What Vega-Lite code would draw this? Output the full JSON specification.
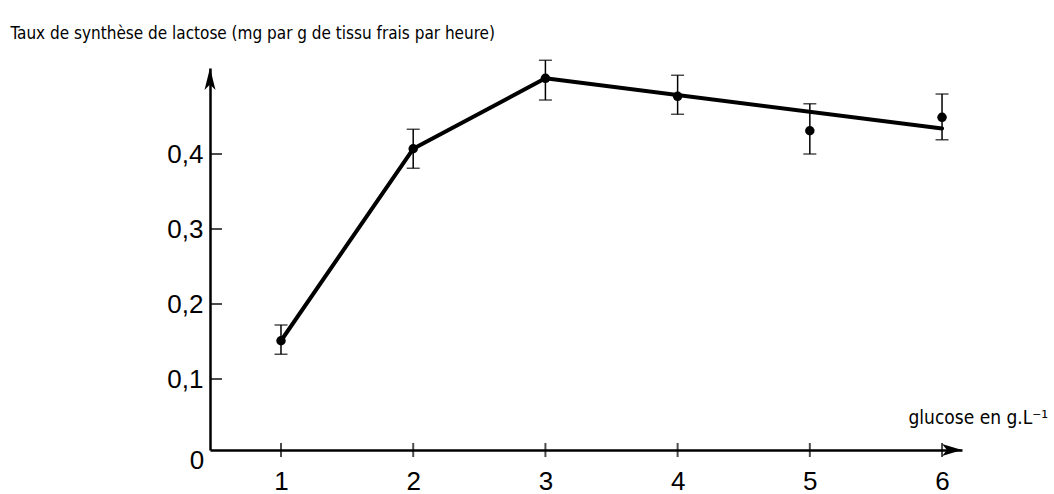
{
  "$schema": "https://vega.github.io/schema/vega-lite/v6.json",
  "width": 752,
  "height": 382,
  "autosize": "none",
  "padding": {"left": 210, "top": 68, "right": 92, "bottom": 44},
  "background": "white",
  "config": {
    "view": {"stroke": null},
    "font": "Liberation Sans",
    "axis": {"grid": false, "ticks": false, "domainColor": "black", "domainWidth": 2.5, "labelColor": "black", "titleColor": "black", "labelFont": "Liberation Sans", "labelFontSize": 26, "titleFontWeight": "normal"}
  },
  "datasets": {
    "mesures": [
      {"glucose": 1, "taux": 0.151, "bas": 0.133, "haut": 0.172},
      {"glucose": 2, "taux": 0.407, "bas": 0.381, "haut": 0.433},
      {"glucose": 3, "taux": 0.501, "bas": 0.472, "haut": 0.525},
      {"glucose": 4, "taux": 0.477, "bas": 0.453, "haut": 0.505},
      {"glucose": 5, "taux": 0.431, "bas": 0.400, "haut": 0.467},
      {"glucose": 6, "taux": 0.449, "bas": 0.419, "haut": 0.480}
    ],
    "courbe": [
      {"glucose": 1, "taux": 0.151},
      {"glucose": 2, "taux": 0.407},
      {"glucose": 3, "taux": 0.501},
      {"glucose": 6, "taux": 0.434}
    ],
    "graduations": [
      {"v": 0.1}, {"v": 0.2}, {"v": 0.3}, {"v": 0.4}
    ]
  },
  "layer": [
    {
      "data": {"name": "courbe"},
      "mark": {"type": "line", "color": "black", "strokeWidth": 4, "strokeJoin": "round", "strokeCap": "round"},
      "encoding": {
        "x": {
          "field": "glucose", "type": "quantitative",
          "scale": {"domain": [0.463, 6.151], "nice": false, "zero": false},
          "axis": {
            "values": [1, 2, 3, 4, 5, 6], "format": "d", "labelPadding": 18, "labelFlush": false, "labelBaseline": "top",
            "title": "glucose en g.L⁻¹", "titleFont": "DejaVu Sans Condensed", "titleFontSize": 19,
            "titleAlign": "left", "titleBaseline": "alphabetic", "titleAnchor": "start", "titleX": 698, "titleY": -27
          }
        },
        "y": {
          "field": "taux", "type": "quantitative",
          "scale": {"domain": [0.00533, 0.5147], "nice": false, "zero": false},
          "axis": {
            "values": [0.1, 0.2, 0.3, 0.4], "labelPadding": 7, "labelBaseline": "middle",
            "labelExpr": "replace(format(datum.value, '.1f'), '.', ',')",
            "title": "Taux de synthèse de lactose (mg par g de tissu frais par heure)",
            "titleFont": "DejaVu Sans Condensed", "titleFontSize": 17, "titleAngle": 0,
            "titleAlign": "left", "titleBaseline": "alphabetic", "titleX": -200, "titleY": -30
          }
        }
      }
    },
    {
      "data": {"name": "mesures"},
      "mark": {"type": "rule", "color": "black", "strokeWidth": 1.5},
      "encoding": {
        "x": {"field": "glucose", "type": "quantitative"},
        "y": {"field": "bas", "type": "quantitative"},
        "y2": {"field": "haut"}
      }
    },
    {
      "data": {"name": "mesures"},
      "mark": {"type": "tick", "orient": "horizontal", "color": "black", "size": 13, "thickness": 1.5},
      "encoding": {
        "x": {"field": "glucose", "type": "quantitative"},
        "y": {"field": "bas", "type": "quantitative"}
      }
    },
    {
      "data": {"name": "mesures"},
      "mark": {"type": "tick", "orient": "horizontal", "color": "black", "size": 13, "thickness": 1.5},
      "encoding": {
        "x": {"field": "glucose", "type": "quantitative"},
        "y": {"field": "haut", "type": "quantitative"}
      }
    },
    {
      "data": {"name": "mesures"},
      "mark": {"type": "circle", "color": "black", "size": 90, "opacity": 1},
      "encoding": {
        "x": {"field": "glucose", "type": "quantitative"},
        "y": {"field": "taux", "type": "quantitative"}
      }
    },
    {
      "data": {"name": "mesures"},
      "mark": {"type": "tick", "orient": "vertical", "color": "black", "size": 14, "thickness": 2},
      "encoding": {
        "x": {"field": "glucose", "type": "quantitative"},
        "y": {"datum": 0.00533, "type": "quantitative"}
      }
    },
    {
      "data": {"name": "graduations"},
      "mark": {"type": "tick", "orient": "horizontal", "color": "black", "size": 12, "thickness": 2, "xOffset": 6},
      "encoding": {
        "x": {"datum": 0.463, "type": "quantitative"},
        "y": {"field": "v", "type": "quantitative"}
      }
    },
    {
      "data": {"values": [{}]},
      "mark": {"type": "point", "filled": true, "color": "black", "opacity": 1, "size": 484, "shape": "M0,0L0.5,2L0,1.5L-0.5,2Z"},
      "encoding": {
        "x": {"datum": 0.463, "type": "quantitative"},
        "y": {"datum": 0.5147, "type": "quantitative"}
      }
    },
    {
      "data": {"values": [{}]},
      "mark": {"type": "point", "filled": true, "color": "black", "opacity": 1, "size": 400, "shape": "M0,0L-2,-0.6L-1.5,0L-2,0.6Z"},
      "encoding": {
        "x": {"datum": 6.151, "type": "quantitative"},
        "y": {"datum": 0.00533, "type": "quantitative"}
      }
    },
    {
      "data": {"values": [{}]},
      "mark": {"type": "text", "text": "0", "font": "Liberation Sans", "fontSize": 26, "color": "black", "align": "center", "baseline": "middle", "dx": -13, "dy": 11},
      "encoding": {
        "x": {"datum": 0.463, "type": "quantitative"},
        "y": {"datum": 0.00533, "type": "quantitative"}
      }
    }
  ]
}
